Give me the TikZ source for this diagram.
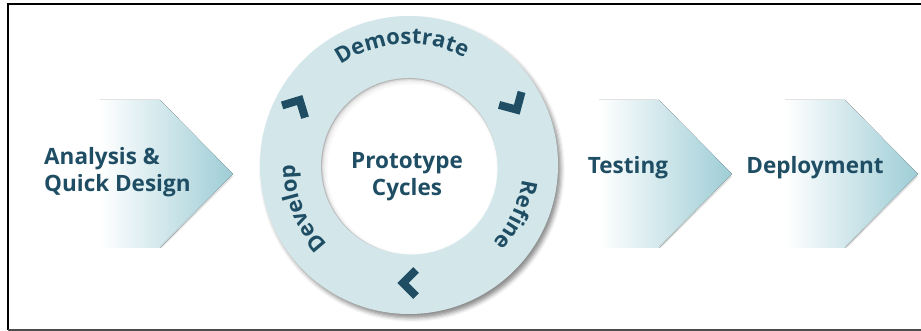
\documentclass[tikz,border=0pt]{standalone}
\usepackage{fontspec}
\setmainfont{Open Sans}
\usetikzlibrary{decorations.text,shadows.blur}
\definecolor{inkblue}{HTML}{1F4E64}
\definecolor{ringfill}{HTML}{D3E7EB}
\definecolor{arrowteal}{HTML}{9ECDD6}
\newcommand\ringfont{\color{inkblue}\bfseries\fontsize{22}{22}\selectfont}
\tikzset{
  phase/.style={font=\bfseries\fontsize{22.5}{27}\selectfont, text=inkblue, align=left, inner sep=0pt},
  flow/.style={left color=white, right color=arrowteal},
  flowedge/.style={draw=black!30, line width=2.5pt, opacity=0.35},
  chev/.style={draw=inkblue, line width=8pt, line join=miter},
  ringtext/.style={decorate, decoration={text along path, text align=center, text={|\ringfont|#1}}}
}
\begin{document}
\begin{tikzpicture}[x=1pt,y=1pt]
  \useasboundingbox (0,0) rectangle (921,331);
  \draw[line width=2pt] (7.5,1) -- (7.5,326.5) -- (921,326.5);
  \draw[line width=2pt, black!70] (7.5,1) -- (921,1);
  \foreach \tip in {233,732,918} {
    \fill[flow] (\tip-133,231) -- (\tip-73,231) -- (\tip,157) -- (\tip-73,83) -- (\tip-133,83) -- cycle;
    \draw[flowedge] (\tip-1,155) -- (\tip-72,84);
  }
  \coordinate (c) at (409,166);
  \fill[ringfill, blur shadow={shadow xshift=3pt, shadow yshift=-4pt, shadow blur radius=4pt, shadow opacity=45}]
    (c) circle[radius=149];
  \fill[black!28] (409,165) circle[radius=88];
  \foreach \k in {1,...,5}
    \fill[white, opacity=0.45] (409+0.6*\k,165-0.6*\k) circle[radius=88-0.5*\k];
  \fill[white] (412,162) circle[radius=84.5];
  \begin{scope}[shift={(409,166)}]
    \foreach \ang/\rad in {152/127, 30/121, 270/118}
      \draw[chev, shift={(\ang:\rad)}, rotate=\ang-90] (-7,13) -- (6,0) -- (-7,-13);
  \end{scope}
  \path[ringtext=Demostrate] (c) ++(135:121) arc[start angle=135, end angle=52, radius=121];
  \path[ringtext=Refine] (c) ++(10:114) arc[start angle=10, end angle=-60, radius=114];
  \path[ringtext=Develop] (c) ++(245:114) arc[start angle=245, end angle=159, radius=114];
  \node[phase, anchor=west] (analysis) at (44,159) {Analysis \&\\Quick Design};
  \node[phase, align=center] (proto) at (407,154) {Prototype\\Cycles};
  \node[phase] (testing) at (628,163) {Testing};
  \node[phase] (deploy) at (815,163) {Deployment};
\end{tikzpicture}
\end{document}
